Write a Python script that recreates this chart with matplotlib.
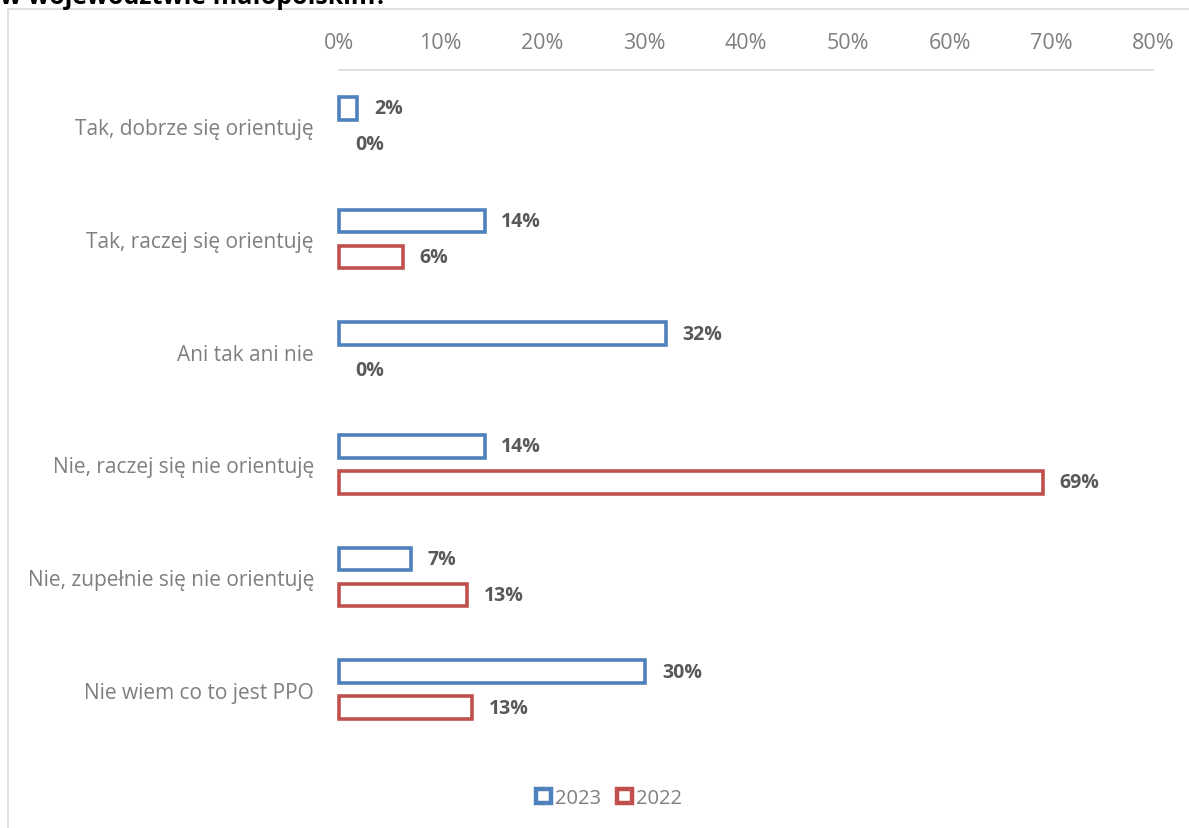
import numpy as np
import matplotlib.pyplot as plt
import matplotlib.ticker as mtick
from matplotlib.patches import Rectangle, Patch

plt.rcParams['font.family'] = ['Open Sans', 'DejaVu Sans']

categories = [
    'Tak, dobrze się orientuję',
    'Tak, raczej się orientuję',
    'Ani tak ani nie',
    'Nie, raczej się nie orientuję',
    'Nie, zupełnie się nie orientuję',
    'Nie wiem co to jest PPO',
]
values_2023 = [1.8, 14.3, 32.1, 14.3, 7.1, 30.1]
values_2022 = [0, 6.3, 0, 69.2, 12.6, 13.1]
series_names = ['2023', '2022']
title_tail = 'w województwie małopolskim?'

blue = '#4F81BD'
red = '#C0504D'
grey_text = '#7F7F7F'
label_text = '#595959'

fig = plt.figure(figsize=(11.89, 8.29), dpi=100)

# chart frame and cut-off title
fig.patches.append(Rectangle((8 / 1189, -0.1), 1.2, 1 - 10 / 829 + 0.1,
                             transform=fig.transFigure, fill=False,
                             edgecolor='#D9D9D9', linewidth=1.2))
fig.text(0, 1 - 4 / 829, title_tail, fontsize=18, fontweight='bold',
         va='baseline', ha='left', color='black')

ax = fig.add_axes([339 / 1189, 1 - 747 / 829, (1153 - 339) / 1189, (747 - 71) / 829])

y = np.arange(len(categories))
off = 0.16
h = 0.2
handles = []
for vals, color, sign, name in [(values_2023, blue, -1, series_names[0]),
                                (values_2022, red, 1, series_names[1])]:
    lw = [2.6 if v > 0 else 0 for v in vals]
    bars = ax.barh(y + sign * off, vals, height=h, facecolor='white', edgecolor=color,
                   linewidth=lw)
    for b in bars:
        b.set_clip_on(False)
    handles.append(Patch(facecolor='white', edgecolor=color, linewidth=3.2, label=name))
    for yi, v in zip(y + sign * off, vals):
        ax.annotate(f'{v:.0f}%', (v, yi), xytext=(12, 0), textcoords='offset points',
                    ha='left', va='center', fontsize=14, fontweight='bold',
                    color=label_text)

ax.set_xlim(0, 80)
ax.set_ylim(len(categories) - 0.5, -0.5)
ax.xaxis.tick_top()
ax.xaxis.set_major_locator(mtick.MultipleLocator(10))
ax.xaxis.set_major_formatter(mtick.PercentFormatter(decimals=0))
ax.tick_params(axis='x', length=0, pad=12, labelsize=15.5, labelcolor=grey_text)
ax.set_yticks(y, categories)
ax.tick_params(axis='y', length=0, pad=18, labelsize=15, labelcolor=grey_text)
for s in ['bottom', 'left', 'right']:
    ax.spines[s].set_visible(False)
ax.spines['top'].set_color('#D9D9D9')
ax.spines['top'].set_linewidth(1.2)

leg = fig.legend(handles=handles, loc='center',
                 bbox_to_anchor=(609 / 1189, 1 - 799 / 829), ncol=2,
                 frameon=False, fontsize=14.5, handlelength=0.75, handleheight=0.75,
                 handletextpad=0.2, columnspacing=0.8)
for t in leg.get_texts():
    t.set_color(grey_text)

plt.savefig('out.png', dpi=100)
